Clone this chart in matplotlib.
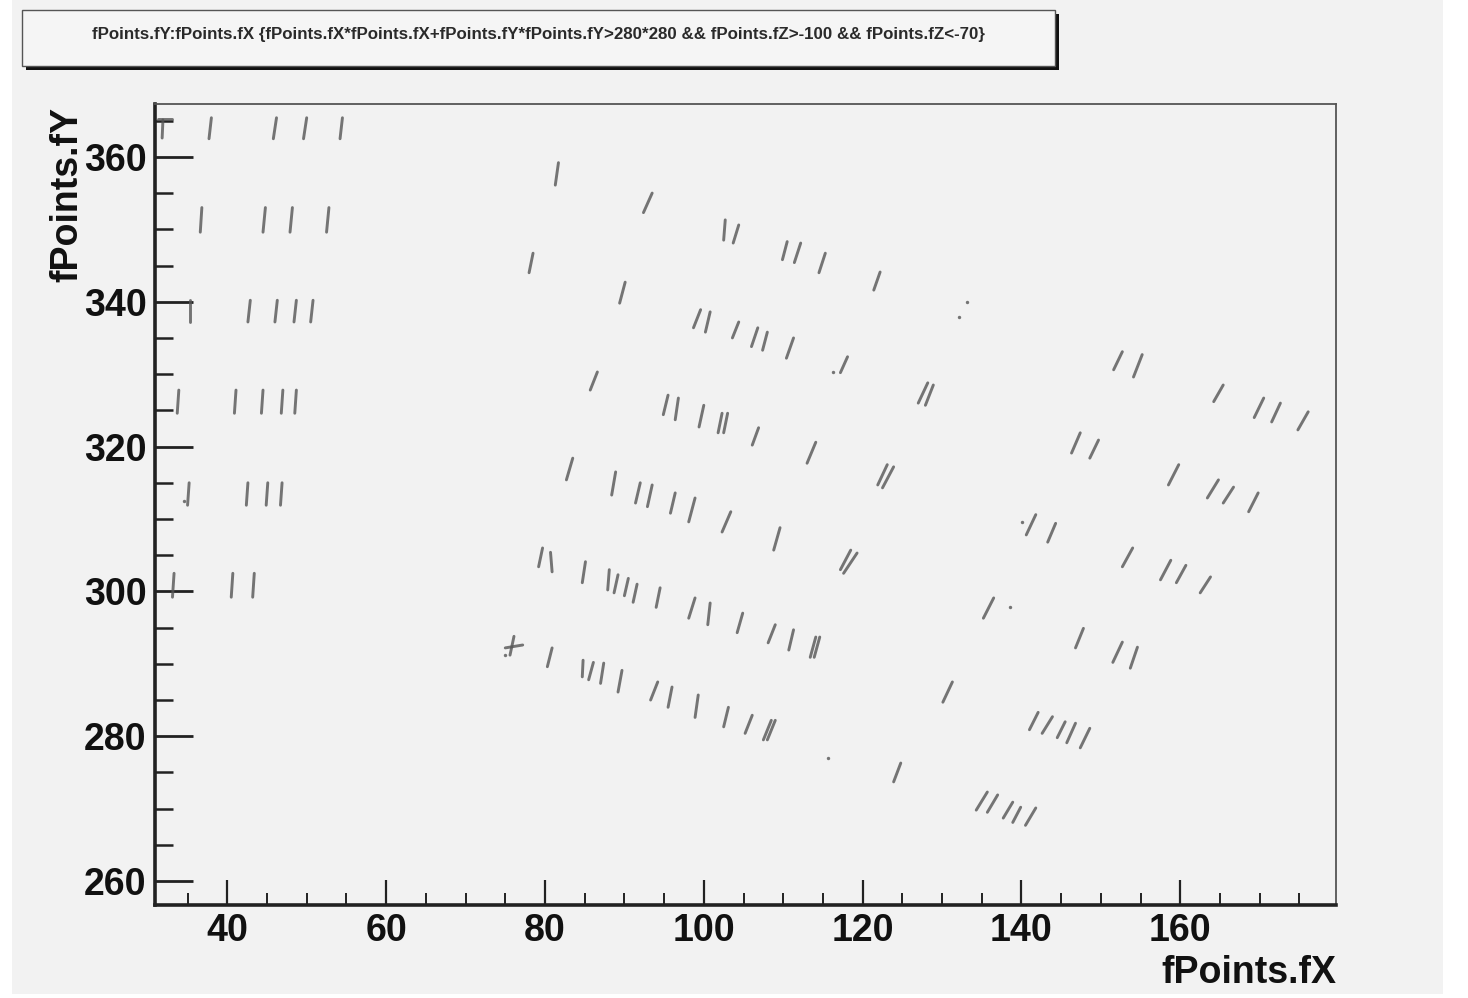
import matplotlib
matplotlib.use("Agg")
import matplotlib.pyplot as plt
from matplotlib.collections import LineCollection
from matplotlib.patches import Rectangle
from matplotlib.ticker import MultipleLocator

# ---- data: short track segments (top point -> bottom point) ----
seg_x0 = [31.9, 31.3, 38.0, 46.2, 50.0, 54.5,
          36.8, 44.8, 48.2, 52.8,
          35.3, 42.9, 46.3, 48.7, 50.8,
          33.9, 41.1, 44.5, 47.0, 48.7,
          35.2, 42.6, 45.1, 46.9,
          33.3, 40.7, 43.4,
          81.7, 93.5, 78.5, 90.1, 102.7, 104.4, 110.5, 112.2, 115.3, 122.2,
          99.6, 100.8, 104.4, 106.8, 108.0, 111.3, 118.1, 86.6, 128.2, 128.9,
          95.5, 96.8, 100.0, 102.3, 103.0, 106.9, 114.1,
          83.5, 88.9, 92.0, 93.5, 96.4, 98.9, 103.4, 109.6, 123.9, 123.1, 119.3, 118.5,
          79.7, 80.7, 85.1, 88.1, 89.2, 90.5, 91.6, 94.5, 98.9, 100.8, 104.9, 109.0, 111.3, 114.1, 114.6,
          76.1, 75.0, 80.9, 84.8, 86.1, 87.4, 89.7, 94.2, 96.0, 99.3, 103.1, 106.1, 109.0, 108.5,
          124.8,
          152.7, 155.2, 165.4, 170.5, 172.6, 176.1,
          147.4, 149.7, 159.8, 164.8, 166.7, 169.8,
          141.8, 144.3, 154.0, 158.8, 160.7, 163.8,
          136.5, 147.8, 152.7, 154.6, 131.3,
          142.1, 143.9, 145.5, 146.8, 148.6,
          135.7, 137.0, 138.9, 139.9, 141.8]
seg_y0 = [365.1, 365.2, 365.4, 365.4, 365.4, 365.4,
          353.0, 353.0, 353.0, 353.0,
          340.2, 340.2, 340.2, 340.2, 340.2,
          327.8, 327.8, 327.8, 327.8, 327.8,
          315.0, 315.0, 315.0, 315.0,
          302.5, 302.5, 302.5,
          359.2, 355.0, 346.7, 342.7, 351.3, 350.6, 348.3, 348.1, 346.7, 344.1,
          338.9, 338.6, 337.2, 336.4, 335.8, 335.0, 332.4, 330.3, 328.8, 328.5,
          327.1, 326.7, 325.7, 324.6, 324.6, 322.6, 320.6,
          318.4, 316.5, 315.0, 314.7, 313.6, 312.9, 311.0, 308.8, 317.2, 317.5, 305.3, 305.7,
          306.0, 305.4, 304.1, 303.0, 302.3, 301.8, 301.0, 300.5, 299.1, 298.4, 297.0, 295.4, 294.7, 293.7, 293.7,
          293.8, 292.2, 292.2, 290.5, 290.2, 290.1, 289.1, 287.5, 286.8, 285.7, 284.0, 282.9, 282.2, 282.2,
          276.3,
          333.1, 332.7, 328.5, 326.7, 326.0, 324.8,
          321.9, 320.9, 317.5, 315.4, 314.4, 313.6,
          310.6, 309.4, 306.0, 304.3, 303.6, 302.0,
          299.1, 294.9, 293.0, 292.3, 287.5,
          283.3, 282.7, 282.0, 281.8, 281.1,
          272.3, 271.9, 270.9, 270.2, 270.1]
seg_x1 = [31.8, 33.1, 37.7, 45.8, 49.6, 54.2,
          36.6, 44.5, 47.9, 52.5,
          35.3, 42.6, 46.0, 48.4, 50.5,
          33.7, 40.9, 44.3, 46.8, 48.5,
          35.0, 42.4, 44.9, 46.7,
          33.1, 40.5, 43.2,
          81.3, 92.4, 78.0, 89.4, 102.5, 103.7, 109.9, 111.4, 114.5, 121.4,
          98.7, 100.2, 103.6, 106.0, 107.4, 110.4, 117.2, 85.7, 127.0, 127.9,
          94.9, 96.4, 99.4, 101.8, 102.5, 106.1, 113.0,
          82.7, 88.4, 91.4, 92.9, 95.8, 98.1, 102.3, 108.8, 122.5, 121.9, 117.6, 117.2,
          79.2, 80.9, 84.7, 87.9, 88.7, 90.0, 91.1, 94.0, 98.1, 100.5, 104.2, 108.1, 110.7, 113.4, 113.9,
          75.6, 77.2, 80.3, 84.7, 85.5, 87.0, 89.2, 93.3, 95.5, 98.9, 102.5, 105.2, 108.0, 107.5,
          123.9,
          151.6, 154.1, 164.2, 169.3, 171.5, 174.8,
          146.3, 148.6, 158.5, 163.4, 165.4, 168.6,
          140.6, 143.3, 152.7, 157.5, 159.5, 162.5,
          135.2, 146.8, 151.5, 153.7, 130.1,
          141.0, 142.6, 144.5, 145.7, 147.4,
          134.3, 135.7, 137.7, 138.9, 140.5]
seg_y1 = [362.6, 365.2, 362.5, 362.5, 362.5, 362.5,
          349.6, 349.6, 349.6, 349.6,
          337.2, 337.2, 337.2, 337.2, 337.2,
          324.6, 324.6, 324.6, 324.6, 324.6,
          311.9, 311.9, 311.9, 311.9,
          299.2, 299.2, 299.2,
          356.1, 352.3, 344.0, 339.8, 348.5, 348.1, 345.8, 345.4, 344.0, 341.6,
          336.4, 335.8, 335.0, 333.8, 333.3, 332.2, 330.2, 327.8, 326.0, 325.7,
          324.4, 323.7, 322.7, 321.9, 321.9, 320.2, 317.7,
          315.4, 313.3, 312.2, 311.7, 310.8, 309.6, 308.2, 305.7, 314.3, 314.7, 302.5, 303.0,
          303.4, 302.7, 301.2, 300.2, 299.8, 299.4, 298.5, 297.8, 296.3, 295.4, 294.3, 292.9, 291.9, 290.9, 290.9,
          291.2, 292.6, 289.6, 288.2, 287.8, 287.3, 286.1, 285.0, 284.0, 282.6, 281.3, 280.4, 279.5, 279.5,
          273.7,
          330.6, 329.6, 326.2, 324.0, 323.4, 322.3,
          319.1, 318.4, 314.7, 312.9, 312.2, 311.0,
          307.8, 306.8, 303.4, 301.6, 301.2, 299.8,
          296.3, 292.2, 290.2, 289.4, 284.7,
          280.9, 280.4, 279.8, 279.1, 278.4,
          269.8, 269.5, 268.7, 268.1, 267.7]
dot_x = [34.5, 75.0, 116.3, 133.2, 132.1, 140.1, 138.6, 115.6]
dot_y = [312.5, 291.2, 330.3, 340.0, 337.9, 309.6, 297.8, 277.0]

x_ticks = [40, 60, 80, 100, 120, 140, 160]
y_ticks = [260, 280, 300, 320, 340, 360]
title_text = ("fPoints.fY:fPoints.fX {fPoints.fX*fPoints.fX+fPoints.fY*fPoints.fY>280*280 "
              "&& fPoints.fZ>-100 && fPoints.fZ<-70}")
x_label = "fPoints.fX"
y_label = "fPoints.fY"

W, H = 1468, 998
BG = "#f2f2f2"
fig = plt.figure(figsize=(W / 100, H / 100), dpi=100, facecolor="white")

# canvas background
fig.patches.append(Rectangle((12 / W, 1 - 994 / H), (1443 - 12) / W, 994 / H,
                             transform=fig.transFigure, facecolor=BG, edgecolor="none", zorder=-5))

# title box with shadow
bx0, bx1, by0, by1 = 22, 1055, 10, 66
fig.patches.append(Rectangle(((bx0 + 4) / W, 1 - (by1 + 4) / H), (bx1 - bx0) / W, (by1 - by0) / H,
                             transform=fig.transFigure, facecolor="#111111", edgecolor="none", zorder=1))
fig.patches.append(Rectangle((bx0 / W, 1 - by1 / H), (bx1 - bx0) / W, (by1 - by0) / H,
                             transform=fig.transFigure, facecolor="#f5f5f5", edgecolor="#555555",
                             linewidth=1.0, zorder=2))
fig.text((bx0 + bx1) / 2 / W, 1 - 35 / H, title_text, ha="center", va="center",
         fontsize=12.2, family="Liberation Sans", fontweight="bold", color="#2a2a2a", zorder=3)

ax = fig.add_axes([155 / W, 1 - 905 / H, (1336 - 155) / W, (905 - 104) / H])
ax.set_zorder(5)
ax.set_facecolor(BG)
ax.set_xlim(30.9, 179.6)
ax.set_ylim(256.7, 367.3)

segs = [[(a, b), (c, d)] for a, b, c, d in zip(seg_x0, seg_y0, seg_x1, seg_y1)]
lc = LineCollection(segs, colors="#555555", linewidths=2.1, alpha=0.8, capstyle="round")
ax.add_collection(lc)
ax.scatter(dot_x, dot_y, s=6, color="#555555", alpha=0.8, linewidths=0)

ax.set_xticks(x_ticks)
ax.set_yticks(y_ticks)
ax.xaxis.set_minor_locator(MultipleLocator(5))
ax.yaxis.set_minor_locator(MultipleLocator(5))
ax.tick_params(which="both", direction="in", top=False, right=False, color="#222222")
ax.tick_params(axis="x", which="major", length=18, width=1.6, pad=6)
ax.tick_params(axis="x", which="minor", length=9, width=1.4)
ax.tick_params(axis="y", which="major", length=27, width=2.0, pad=6)
ax.tick_params(axis="y", which="minor", length=13, width=1.8)
for lab in ax.get_xticklabels() + ax.get_yticklabels():
    lab.set_fontfamily("Liberation Sans")
    lab.set_fontweight("bold")
    lab.set_fontsize(27)
    lab.set_color("#111111")

for s in ["left", "bottom"]:
    ax.spines[s].set_linewidth(2.6)
    ax.spines[s].set_color("#222222")
for s in ["top", "right"]:
    ax.spines[s].set_linewidth(1.3)
    ax.spines[s].set_color("#555555")

fig.text(1336 / W, 1 - 973 / H, x_label, ha="right", va="center", fontsize=27,
         family="Liberation Sans", fontweight="bold", color="#111111")
fig.text(67 / W, 1 - 195 / H, y_label, ha="center", va="center", rotation=90, fontsize=27,
         family="Liberation Sans", fontweight="bold", color="#111111")

fig.savefig("out.png", dpi=100, facecolor=fig.get_facecolor())
